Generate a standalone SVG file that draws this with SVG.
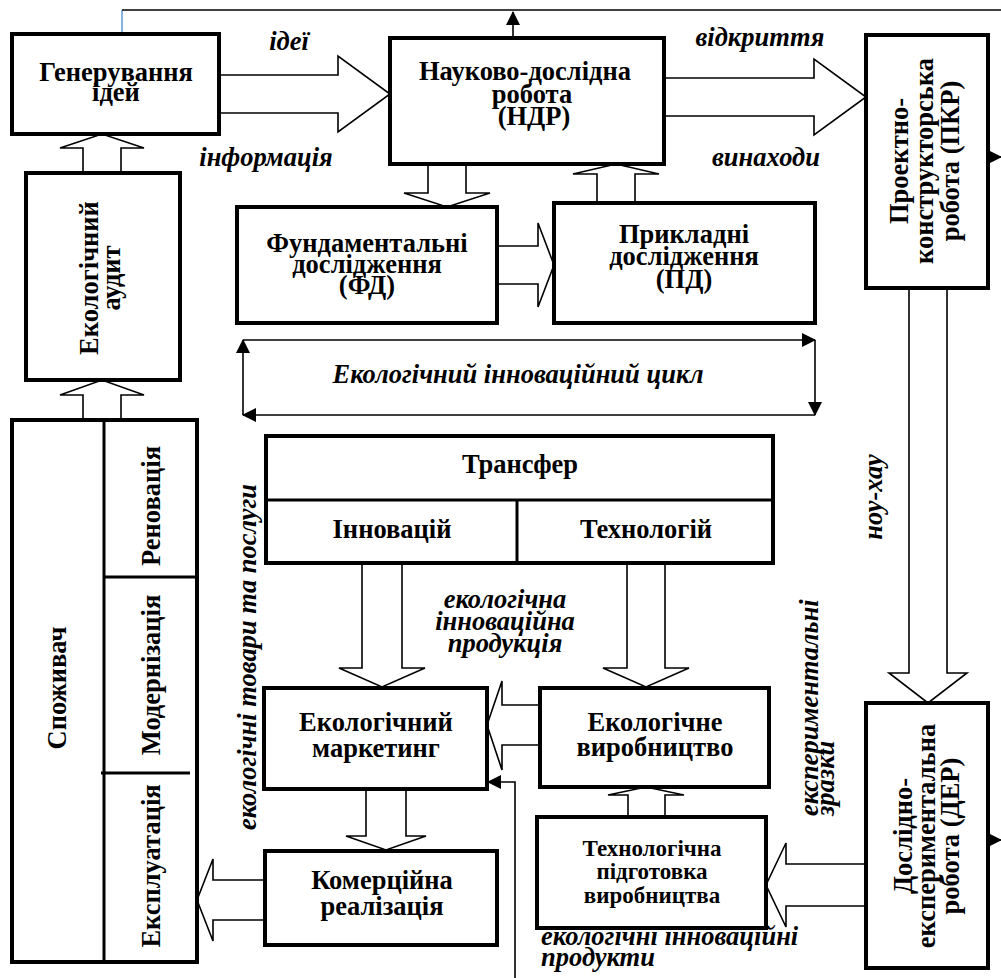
<svg xmlns="http://www.w3.org/2000/svg" width="1001" height="978" viewBox="0 0 1001 978" font-family="'Liberation Serif', 'Times New Roman', 'DejaVu Serif', serif">
  <defs>
    <marker id="tri" markerUnits="userSpaceOnUse" markerWidth="14" markerHeight="14" viewBox="0 0 14 14" refX="13" refY="7" orient="auto">
      <path d="M0,0 L14,7 L0,14 Z" fill="#000"/>
    </marker>
    <style>
      .box { fill: #fff; stroke: #000; stroke-width: 4; }
      .blk { fill: #fff; stroke: #000; stroke-width: 1.6; stroke-linejoin: miter; }
      .thin { fill: none; stroke: #000; stroke-width: 1.6; }
      .div { stroke: #000; stroke-width: 3; }
      .t { font-weight: bold; font-size: 26.5px; text-anchor: middle; fill: #000; }
      .s { font-size: 23px; }
      .i { font-weight: bold; font-style: italic; font-size: 26.5px; fill: #000; }
      .m { text-anchor: middle; }
    </style>
  </defs>

  <!-- connectors -->
  <g id="connectors">
    <!-- feedback line along the top -->
    <polyline points="122,34 122,10" fill="none" stroke="#5b9bd5" stroke-width="1.5"/>
    <polyline class="thin" points="122,10 1001,10"/>
    <line class="thin" x1="513" y1="38" x2="513" y2="12" marker-end="url(#tri)"/>
    <line class="thin" x1="988" y1="157" x2="1001" y2="157" marker-end="url(#tri)"/>
    <line class="thin" x1="988" y1="840" x2="1001" y2="840" marker-end="url(#tri)"/>
    <polyline class="thin" points="515,978 515,782 488,782" marker-end="url(#tri)"/>

    <!-- innovation cycle loop -->
    <line class="thin" x1="243" y1="340" x2="815" y2="340" marker-end="url(#tri)"/>
    <line class="thin" x1="815" y1="340" x2="815" y2="415" marker-end="url(#tri)"/>
    <line class="thin" x1="815" y1="415" x2="243" y2="415" marker-end="url(#tri)"/>
    <line class="thin" x1="243" y1="415" x2="243" y2="340" marker-end="url(#tri)"/>

    <!-- block arrows -->
    <polygon class="blk" points="219,75 338,75 338,56 390,94 338,132 338,113 219,113"/>
    <polygon class="blk" points="664,78 814,78 814,59 866,97 814,135 814,116 664,116"/>
    <polygon class="blk" points="428,164 466,164 466,193 490,193 447,207 404,193 428,193"/>
    <polygon class="blk" points="597,203 635,203 635,174 659,174 616,164 573,174 597,174"/>
    <polygon class="blk" points="497,246 538,246 538,223 554,265 538,307 538,284 497,284"/>
    <polygon class="blk" points="83,173 121,173 121,148 144,148 102,134 60,148 83,148"/>
    <polygon class="blk" points="83,420 121,420 121,395 144,395 102,380 60,395 83,395"/>
    <polygon class="blk" points="362,563 402,563 402,668 425,668 382,687 339,668 362,668"/>
    <polygon class="blk" points="627,563 665,563 665,668 689,668 646,687 603,668 627,668"/>
    <polygon class="blk" points="540,705 502,705 502,681 487,725 502,770 502,745 540,745"/>
    <polygon class="blk" points="366,789 406,789 406,836 426,836 386,850 346,836 366,836"/>
    <polygon class="blk" points="265,880 213,880 213,859 197,900 213,941 213,920 265,920"/>
    <polygon class="blk" points="628,817 665,817 665,795 684,795 646,787 608,795 628,795"/>
    <polygon class="blk" points="866,864 786,864 786,843 766,885 786,927 786,906 866,906"/>
    <polygon class="blk" points="909,288 947,288 947,673 967,673 928,703 889,673 909,673"/>
  </g>

  <!-- flow labels -->
  <g id="labels">
    <text class="i m" x="289" y="50">ідеї</text>
    <text class="i m" x="266" y="166">інформація</text>
    <text class="i m" x="760" y="46">відкриття</text>
    <text class="i m" x="766" y="166">винаходи</text>
    <text class="i m" x="518" y="383" font-size="28">Екологічний інноваційний цикл</text>
    <text class="i m" x="505" y="608">екологічна</text>
    <text class="i m" x="505" y="630">інноваційна</text>
    <text class="i m" x="505" y="652">продукція</text>
    <text class="i" x="541" y="945">екологічні інноваційні</text>
    <text class="i" x="541" y="966">продукти</text>
    <text class="i m" transform="translate(256,657) rotate(-90)">екологічні товари та послуги</text>
    <text class="i m" transform="translate(882,497) rotate(-90)">ноу-хау</text>
    <text class="i" transform="translate(818,816) rotate(-90)"><tspan x="0" y="0">експериментальні</tspan><tspan x="0" y="16">зразки</tspan></text>
  </g>

  <g id="node-generation">
    <rect class="box" x="12" y="34" width="207" height="100"/>
    <text class="t" x="116" y="81">Генерування</text>
    <text class="t" x="116" y="101">ідей</text>
  </g>

  <g id="node-ndr">
    <rect class="box" x="390" y="38" width="274" height="126"/>
    <text class="t" x="525" y="80">Науково-дослідна</text>
    <text class="t" x="532" y="103">робота</text>
    <text class="t" x="534" y="125">(НДР)</text>
  </g>

  <g id="node-pkr">
    <rect class="box" x="866" y="35" width="122" height="253"/>
    <text class="t" transform="translate(908,161) rotate(-90)"><tspan x="0" y="0">Проектно-</tspan><tspan x="0" y="25">конструкторська</tspan><tspan x="0" y="51">робота (ПКР)</tspan></text>
  </g>

  <g id="node-audit">
    <rect class="box" x="26" y="173" width="154" height="207"/>
    <text class="t" transform="translate(98,278) rotate(-90)"><tspan x="0" y="0">Екологічний</tspan><tspan x="0" y="22">аудит</tspan></text>
  </g>

  <g id="node-fd">
    <rect class="box" x="237" y="207" width="260" height="116"/>
    <text class="t" x="367" y="252">Фундаментальні</text>
    <text class="t" x="367" y="273">дослідження</text>
    <text class="t" x="367" y="294">(ФД)</text>
  </g>

  <g id="node-pd">
    <rect class="box" x="554" y="203" width="261" height="120"/>
    <text class="t" x="684" y="243">Прикладні</text>
    <text class="t" x="684" y="265">дослідження</text>
    <text class="t" x="684" y="288">(ПД)</text>
  </g>

  <g id="node-consumer">
    <rect class="box" x="12" y="420" width="185" height="542"/>
    <line class="div" x1="104" y1="420" x2="104" y2="962"/>
    <line class="div" x1="104" y1="577" x2="197" y2="577"/>
    <line class="div" x1="101" y1="773" x2="190" y2="773"/>
    <text class="t" transform="translate(66,688) rotate(-90)">Споживач</text>
    <text class="t" transform="translate(160,506) rotate(-90)">Реновація</text>
    <text class="t" transform="translate(160,675) rotate(-90)">Модернізація</text>
    <text class="t" transform="translate(160,866) rotate(-90)">Експлуатація</text>
  </g>

  <g id="node-transfer">
    <rect class="box" x="266" y="436" width="507" height="127"/>
    <line class="div" x1="266" y1="500" x2="773" y2="500"/>
    <line class="div" x1="517" y1="500" x2="517" y2="563"/>
    <text class="t" x="520" y="473">Трансфер</text>
    <text class="t" x="392" y="538">Інновацій</text>
    <text class="t" x="646" y="538">Технологій</text>
  </g>

  <g id="node-marketing">
    <rect class="box" x="264" y="688" width="223" height="101"/>
    <text class="t" x="376" y="731">Екологічний</text>
    <text class="t" x="376" y="757">маркетинг</text>
  </g>

  <g id="node-production">
    <rect class="box" x="540" y="688" width="229" height="99"/>
    <text class="t" x="655" y="731">Екологічне</text>
    <text class="t" x="655" y="756">виробництво</text>
  </g>

  <g id="node-sales">
    <rect class="box" x="265" y="851" width="232" height="94"/>
    <text class="t" x="382" y="889">Комерційна</text>
    <text class="t" x="382" y="915">реалізація</text>
  </g>

  <g id="node-prep">
    <rect class="box" x="537" y="817" width="229" height="111"/>
    <text class="t s" x="652" y="856">Технологічна</text>
    <text class="t s" x="652" y="879">підготовка</text>
    <text class="t s" x="652" y="903">виробництва</text>
  </g>

  <g id="node-der">
    <rect class="box" x="866" y="703" width="122" height="265"/>
    <text class="t" transform="translate(912,836) rotate(-90)"><tspan x="0" y="0">Дослідно-</tspan><tspan x="0" y="23">експериментальна</tspan><tspan x="0" y="47">робота (ДЕР)</tspan></text>
  </g>
</svg>
